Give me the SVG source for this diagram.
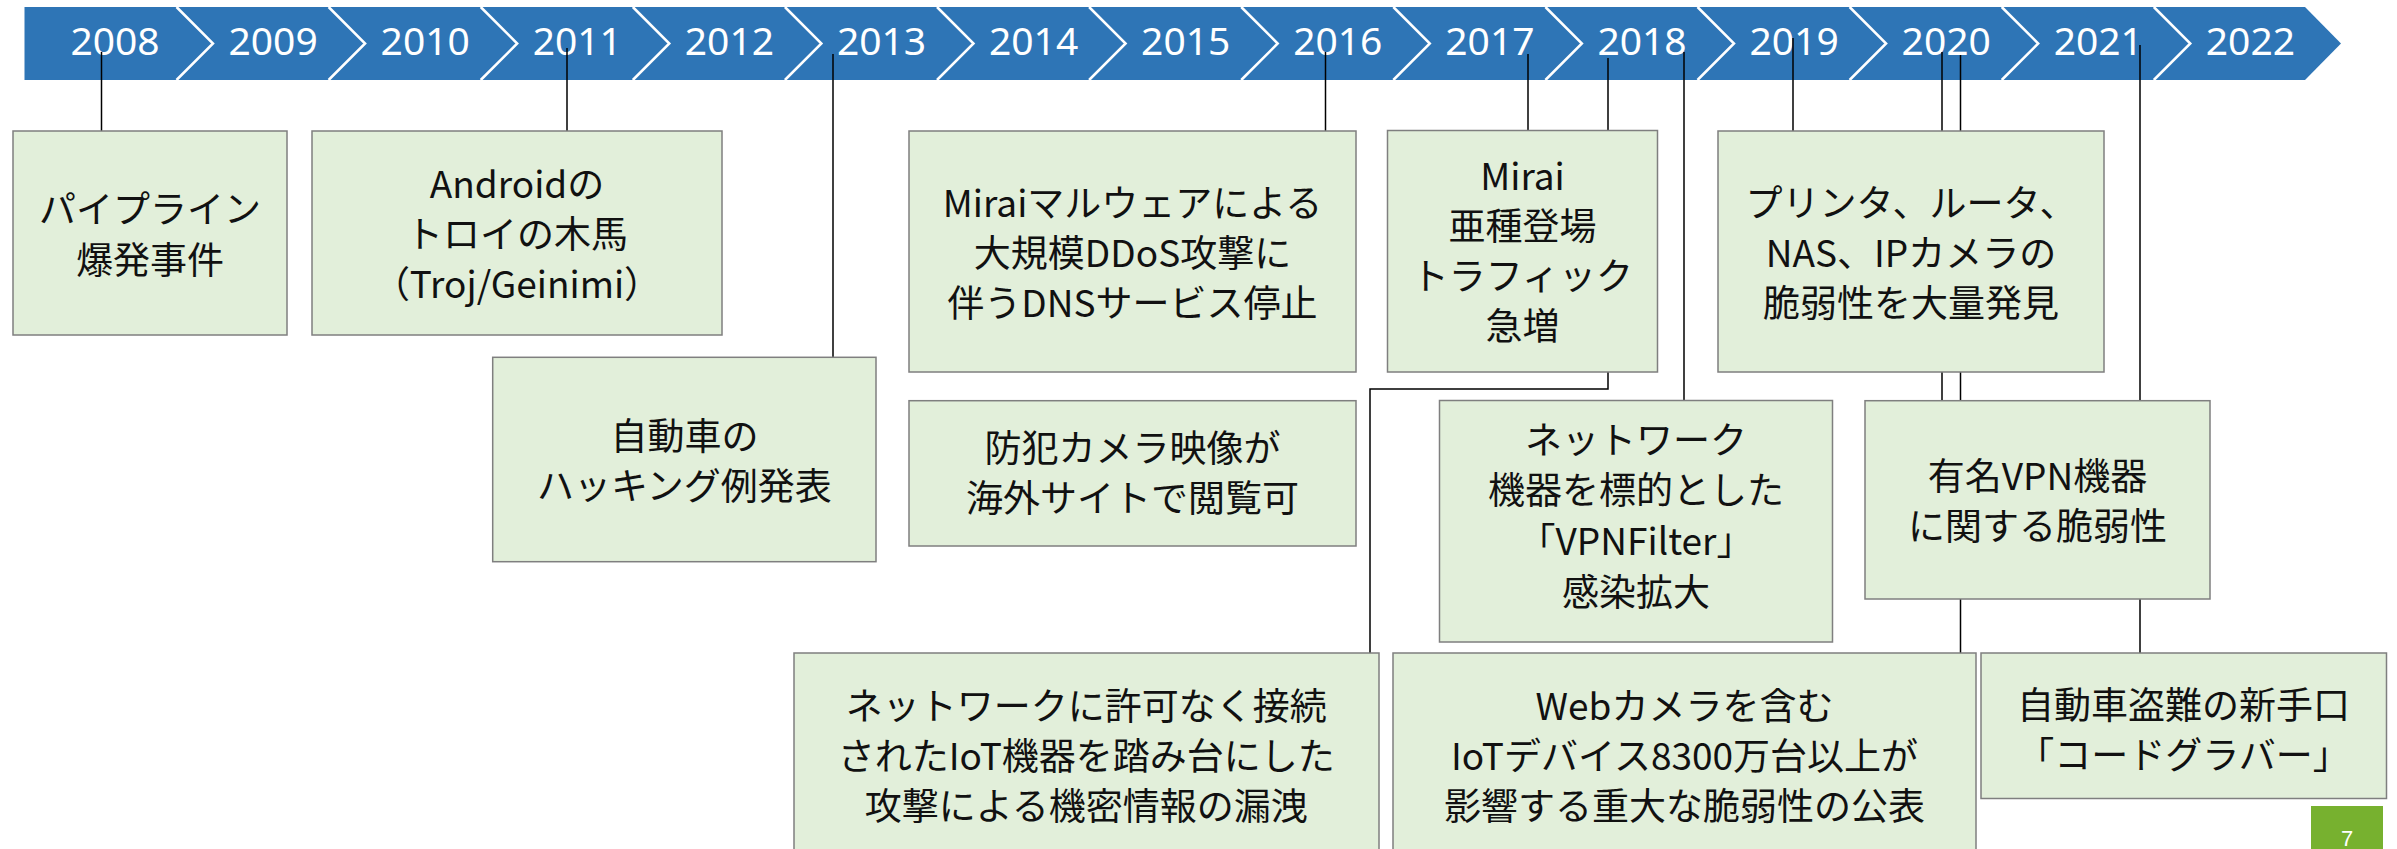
<svg xmlns="http://www.w3.org/2000/svg" width="2397" height="849" viewBox="0 0 2397 849">
<defs>
<style>
.yr{font-family:"Noto Sans","Liberation Sans",sans-serif;font-size:39px;fill:#fff;text-anchor:middle}
.sep{fill:none;stroke:#fff;stroke-width:2.5}
.con{fill:none;stroke:#000;stroke-width:1.5}
.box{fill:#E2EFDA;stroke:#7F7F7F;stroke-width:1.5}
.t{font-family:"Noto Sans CJK JP","Noto Sans",sans-serif;font-size:37px;fill:#111;text-anchor:middle}
</style>
</defs>
<rect width="2397" height="849" fill="#fff"/>
<g id="timeline">
<polygon points="24.5,7 2305,7 2341,43.5 2305,80 24.5,80" fill="#2E75B6"/>
<polyline class="sep" points="176.5,7 213,43.5 176.5,80"/>
<polyline class="sep" points="328.6,7 365.1,43.5 328.6,80"/>
<polyline class="sep" points="480.7,7 517.2,43.5 480.7,80"/>
<polyline class="sep" points="632.8,7 669.3,43.5 632.8,80"/>
<polyline class="sep" points="784.9,7 821.4,43.5 784.9,80"/>
<polyline class="sep" points="937,7 973.5,43.5 937,80"/>
<polyline class="sep" points="1089.1,7 1125.6,43.5 1089.1,80"/>
<polyline class="sep" points="1241.2,7 1277.7,43.5 1241.2,80"/>
<polyline class="sep" points="1393.3,7 1429.8,43.5 1393.3,80"/>
<polyline class="sep" points="1545.4,7 1581.9,43.5 1545.4,80"/>
<polyline class="sep" points="1697.5,7 1734,43.5 1697.5,80"/>
<polyline class="sep" points="1849.6,7 1886.1,43.5 1849.6,80"/>
<polyline class="sep" points="2001.7,7 2038.2,43.5 2001.7,80"/>
<polyline class="sep" points="2153.8,7 2190.3,43.5 2153.8,80"/>
<text class="yr" x="115" y="55">2008</text>
<text class="yr" x="273.1" y="55">2009</text>
<text class="yr" x="425.2" y="55">2010</text>
<text class="yr" x="577.3" y="55">2011</text>
<text class="yr" x="729.4" y="55">2012</text>
<text class="yr" x="881.5" y="55">2013</text>
<text class="yr" x="1033.6" y="55">2014</text>
<text class="yr" x="1185.7" y="55">2015</text>
<text class="yr" x="1337.8" y="55">2016</text>
<text class="yr" x="1489.9" y="55">2017</text>
<text class="yr" x="1642" y="55">2018</text>
<text class="yr" x="1794.1" y="55">2019</text>
<text class="yr" x="1946.2" y="55">2020</text>
<text class="yr" x="2098.3" y="55">2021</text>
<text class="yr" x="2250.4" y="55">2022</text>
</g>
<g id="connectors">
<line class="con" x1="101.5" y1="52" x2="101.5" y2="131"/>
<line class="con" x1="567" y1="48" x2="567" y2="131"/>
<line class="con" x1="833" y1="54" x2="833" y2="357"/>
<line class="con" x1="1325.5" y1="52" x2="1325.5" y2="131"/>
<line class="con" x1="1528" y1="54" x2="1528" y2="131"/>
<polyline class="con" points="1608,58 1608,389 1370,389 1370,653"/>
<line class="con" x1="1684" y1="52" x2="1684" y2="400.5"/>
<line class="con" x1="1793" y1="38" x2="1793" y2="131"/>
<line class="con" x1="1942" y1="52" x2="1942" y2="400.7"/>
<line class="con" x1="1960.5" y1="55" x2="1960.5" y2="653"/>
<line class="con" x1="2140" y1="45" x2="2140" y2="653"/>
</g>
<g id="n2008">
<rect class="box" x="13" y="131" width="274" height="204"/>
<text class="t" x="150" y="223">パイプライン</text>
<text class="t" x="150" y="274">爆発事件</text>
</g>
<g id="n2011">
<rect class="box" x="312" y="131" width="410" height="204"/>
<text class="t" x="517" y="198">Androidの</text>
<text class="t" x="517" y="248">トロイの木馬</text>
<text class="t" x="517" y="298">（Troj/Geinimi）</text>
</g>
<g id="n2013">
<rect class="box" x="492.7" y="357.3" width="383.3" height="204.4"/>
<text class="t" x="684.4" y="450">自動車の</text>
<text class="t" x="684.4" y="500">ハッキング例発表</text>
</g>
<g id="n2016a">
<rect class="box" x="909" y="131" width="447" height="241"/>
<text class="t" x="1132.5" y="217">Miraiマルウェアによる</text>
<text class="t" x="1132.5" y="267">大規模DDoS攻撃に</text>
<text class="t" x="1132.5" y="317">伴うDNSサービス停止</text>
</g>
<g id="n2016b">
<rect class="box" x="909" y="400.7" width="447" height="145.3"/>
<text class="t" x="1132.5" y="462">防犯カメラ映像が</text>
<text class="t" x="1132.5" y="512">海外サイトで閲覧可</text>
</g>
<g id="n2017">
<rect class="box" x="1387.5" y="130.5" width="270" height="241.5"/>
<text class="t" x="1522.5" y="190">Mirai</text>
<text class="t" x="1522.5" y="240">亜種登場</text>
<text class="t" x="1522.5" y="290">トラフィック</text>
<text class="t" x="1522.5" y="340">急増</text>
</g>
<g id="n2018a">
<rect class="box" x="1439.5" y="400.5" width="393" height="241.5"/>
<text class="t" x="1636" y="454">ネットワーク</text>
<text class="t" x="1636" y="504">機器を標的とした</text>
<text class="t" x="1636" y="555">「VPNFilter」</text>
<text class="t" x="1636" y="606">感染拡大</text>
</g>
<g id="n2019">
<rect class="box" x="1718" y="131" width="386" height="241"/>
<text class="t" x="1911" y="217">プリンタ、ルータ、</text>
<text class="t" x="1911" y="267">NAS、IPカメラの</text>
<text class="t" x="1911" y="317">脆弱性を大量発見</text>
</g>
<g id="n2020a">
<rect class="box" x="1865" y="400.7" width="345" height="198.3"/>
<text class="t" x="2037.5" y="490">有名VPN機器</text>
<text class="t" x="2037.5" y="540">に関する脆弱性</text>
</g>
<g id="n2018b">
<rect class="box" x="794" y="653" width="585" height="220"/>
<text class="t" x="1086.3" y="720">ネットワークに許可なく接続</text>
<text class="t" x="1086.3" y="770">されたIoT機器を踏み台にした</text>
<text class="t" x="1086.3" y="820">攻撃による機密情報の漏洩</text>
</g>
<g id="n2020b">
<rect class="box" x="1393" y="653" width="583" height="220"/>
<text class="t" x="1684.5" y="720">Webカメラを含む</text>
<text class="t" x="1684.5" y="770">IoTデバイス8300万台以上が</text>
<text class="t" x="1684.5" y="820">影響する重大な脆弱性の公表</text>
</g>
<g id="n2021">
<rect class="box" x="1981" y="653" width="405.5" height="145.5"/>
<text class="t" x="2183.5" y="719">自動車盗難の新手口</text>
<text class="t" x="2183.5" y="769">「コードグラバー」</text>
</g>
<g id="page">
<rect x="2311" y="806" width="72" height="50" fill="#77B12F"/>
<text x="2347" y="846" font-family="Liberation Sans, sans-serif" font-size="22" fill="#fff" text-anchor="middle">7</text>
</g>
</svg>
